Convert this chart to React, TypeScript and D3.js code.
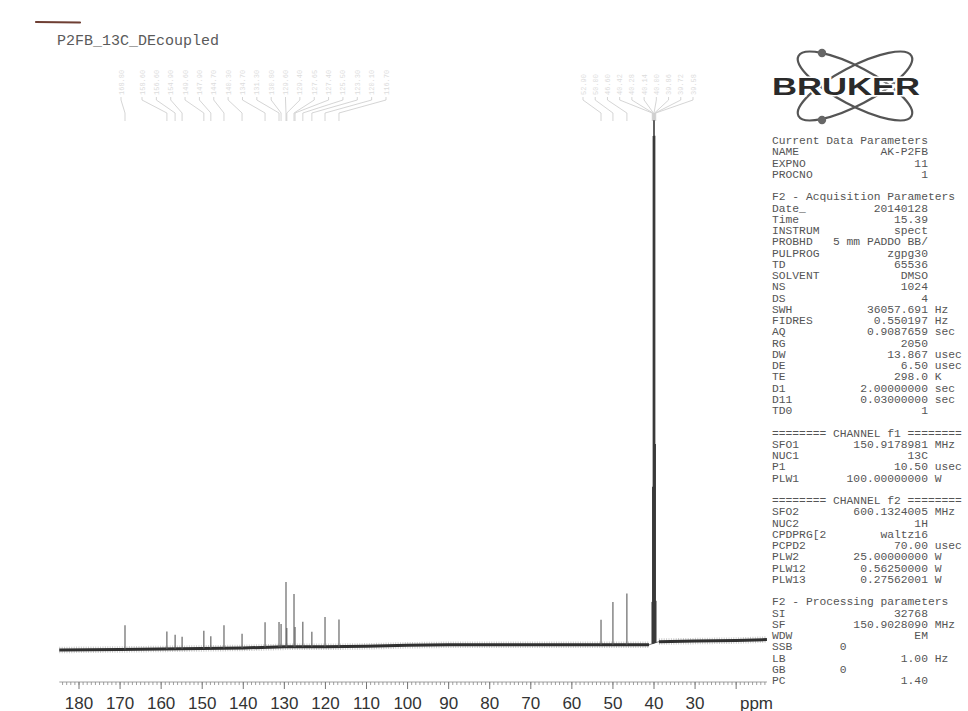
import React from "react";
import * as d3 from "d3";

const W = 968;
const H = 711;

// peaks: ppm and height (DMSO = 100)
const aromaticPpm = [168.8, 158.6, 156.6, 154.9, 149.6, 147.9, 144.7, 140.3, 134.7, 131.3, 130.8, 129.6, 129.4, 127.65, 127.4, 125.5, 123.3, 120.1, 116.7];
const aromaticHeight = [4.6, 3.3, 2.7, 2.3, 3.4, 2.3, 4.4, 2.7, 4.8, 4.8, 4.4, 12.4, 3.6, 10.1, 3.8, 4.8, 2.9, 5.7, 5.2];
const aliphaticPpm = [52.9, 50.0, 46.6];
const aliphaticHeight = [4.8, 8.2, 9.8];
const dmsoPpm = [40.42, 40.28, 40.14, 40.0, 39.86, 39.72, 39.58];
const dmsoHeight = [8, 30, 97, 100, 97, 38, 8];

// baseline drift
const baselinePpm = [184.8, 170, 160, 150, 140, 130, 120, 110, 100, 90, 70, 55, 41.2, 38.8, 30, 20, 12.5];
const baselineLevel = [0, 0.1, 0.2, 0.3, 0.4, 0.6, 0.6, 0.7, 0.9, 1.0, 1.0, 1.0, 1.0, 1.6, 1.7, 1.8, 2.0];

const tickLabels = [180, 170, 160, 150, 140, 130, 120, 110, 100, 90, 80, 70, 60, 50, 40, 30];

// parameter block: [label, value, unit]
const currentParams = [
  ["NAME", "AK-P2FB", ""],
  ["EXPNO", "11", ""],
  ["PROCNO", "1", ""],
];
const acqParams = [
  ["Date_", "20140128", ""],
  ["Time", "15.39", ""],
  ["INSTRUM", "spect", ""],
  ["PROBHD", "5 mm PADDO BB/", ""],
  ["PULPROG", "zgpg30", ""],
  ["TD", "65536", ""],
  ["SOLVENT", "DMSO", ""],
  ["NS", "1024", ""],
  ["DS", "4", ""],
  ["SWH", "36057.691", "Hz"],
  ["FIDRES", "0.550197", "Hz"],
  ["AQ", "0.9087659", "sec"],
  ["RG", "2050", ""],
  ["DW", "13.867", "usec"],
  ["DE", "6.50", "usec"],
  ["TE", "298.0", "K"],
  ["D1", "2.00000000", "sec"],
  ["D11", "0.03000000", "sec"],
  ["TD0", "1", ""],
];
const f1Params = [
  ["SFO1", "150.9178981", "MHz"],
  ["NUC1", "13C", ""],
  ["P1", "10.50", "usec"],
  ["PLW1", "100.00000000", "W"],
];
const f2Params = [
  ["SFO2", "600.1324005", "MHz"],
  ["NUC2", "1H", ""],
  ["CPDPRG[2", "waltz16", ""],
  ["PCPD2", "70.00", "usec"],
  ["PLW2", "25.00000000", "W"],
  ["PLW12", "0.56250000", "W"],
  ["PLW13", "0.27562001", "W"],
];
const procParams = [
  ["SI", "32768", ""],
  ["SF", "150.9028090", "MHz"],
  ["WDW", "EM", ""],
  ["SSB", "0            ", ""],
  ["LB", "1.00", "Hz"],
  ["GB", "0            ", ""],
  ["PC", "1.40", ""],
];

const fmt = (p: string[]) => {
  const [label, value, unit] = p;
  const pad = Math.max(1, 23 - label.length - value.length);
  return label + " ".repeat(pad) + value + (unit ? " " + unit : "");
};

const paramLines: string[] = [
  "Current Data Parameters",
  ...currentParams.map(fmt),
  "",
  "F2 - Acquisition Parameters",
  ...acqParams.map(fmt),
  "",
  "======== CHANNEL f1 ========",
  ...f1Params.map(fmt),
  "",
  "======== CHANNEL f2 ========",
  ...f2Params.map(fmt),
  "",
  "F2 - Processing parameters",
  ...procParams.map(fmt),
];

const App = () => {
  const x = d3.scaleLinear().domain([180, 40]).range([79, 654]);
  const y = d3.scaleLinear().domain([0, 100]).range([650, 127]);
  const base = d3.scaleLinear().domain(baselinePpm).range(baselineLevel);

  const line = d3
    .line<number>()
    .x((p) => x(p))
    .y((p) => y(base(p)));
  const segA = baselinePpm.filter((p) => p >= 41.2);
  const segB = baselinePpm.filter((p) => p <= 38.8);

  const peaks = [
    ...aromaticPpm.map((p, i) => ({ ppm: p, h: aromaticHeight[i] })),
    ...aliphaticPpm.map((p, i) => ({ ppm: p, h: aliphaticHeight[i] })),
  ];
  const dmso = dmsoPpm.map((p, i) => ({ ppm: p, h: dmsoHeight[i] }));

  // peak label groups along the top
  const groups = [
    { ppm: aromaticPpm.slice(0, 1), range: [121, 121] },
    { ppm: aromaticPpm.slice(1), range: [142, 386] },
    { ppm: [...aliphaticPpm, ...dmsoPpm], range: [583, 693] },
  ];

  const axisY = 682;
  const minor = d3.range(13, 185);
  const major = d3.range(20, 181, 10);

  return (
    <svg
      width={W}
      height={H}
      style={{ position: "absolute", left: 0, top: 0, background: "#fff", display: "block" }}
    >
      <rect width={W} height={H} fill="#fff" />

      {/* pen mark + title */}
      <line x1={36} y1={22} x2={80} y2={22.5} stroke="#6e3e33" strokeWidth={2.2} strokeLinecap="round" />
      <text x={57} y={45} fontFamily="'Liberation Mono', 'DejaVu Sans Mono', monospace" fontSize={15} fill="#5a5a5a">
        P2FB_13C_DEcoupled
      </text>

      {/* faint peak labels */}
      {groups.map((g, gi) => {
        const col = d3
          .scalePoint<number>()
          .domain(d3.range(g.ppm.length))
          .range(g.range as [number, number]);
        return (
          <g key={gi}>
            {g.ppm.map((p, i) => {
              const cx = col(i) as number;
              const px = x(p);
              return (
                <g key={i}>
                  <text
                    transform={`translate(${cx + 2.5},95) rotate(-90)`}
                    fontFamily="'Liberation Mono', monospace"
                    fontSize={7}
                    fill="#dcdcdc"
                  >
                    {p.toFixed(2)}
                  </text>
                  <path
                    d={`M${cx},97 L${cx},100 L${px},113 L${px},121`}
                    fill="none"
                    stroke="#cacaca"
                    strokeWidth={0.8}
                  />
                </g>
              );
            })}
          </g>
        );
      })}

      {/* noisy baseline */}
      {[segA, segB].map((s, i) => (
        <g key={i}>
          <path d={line(s) || ""} fill="none" stroke="#666" strokeWidth={6.5} strokeDasharray="1 1.4" opacity={0.35} />
          <path d={line(s) || ""} fill="none" stroke="#303030" strokeWidth={3} />
        </g>
      ))}
      <path d={line([41.2, 38.8]) || ""} fill="none" stroke="#555" strokeWidth={0.8} />

      {/* peaks */}
      {peaks.map((d, i) => (
        <line
          key={i}
          x1={x(d.ppm)}
          x2={x(d.ppm)}
          y1={y(base(d.ppm))}
          y2={y(base(d.ppm) + d.h)}
          stroke="#5a5a5a"
          strokeWidth={1.1}
        />
      ))}
      {dmso.map((d, i) => (
        <line
          key={"d" + i}
          x1={x(d.ppm)}
          x2={x(d.ppm)}
          y1={y(base(d.ppm))}
          y2={y(base(d.ppm) + d.h)}
          stroke="#3a3a3a"
          strokeWidth={1.6}
        />
      ))}

      {/* x axis */}
      <line x1={x(184.8)} x2={x(12.5)} y1={axisY} y2={axisY} stroke="#888" strokeWidth={0.8} />
      {minor.map((t) => (
        <line key={t} x1={x(t)} x2={x(t)} y1={axisY} y2={axisY + 3} stroke="#888" strokeWidth={0.8} />
      ))}
      {major.map((t) => (
        <line key={"M" + t} x1={x(t)} x2={x(t)} y1={axisY} y2={axisY + 7} stroke="#777" strokeWidth={1} />
      ))}
      {tickLabels.map((t) => (
        <text
          key={"l" + t}
          x={x(t)}
          y={708.5}
          textAnchor="middle"
          fontFamily="'Liberation Sans', Arial, sans-serif"
          fontSize={17}
          fill="#333"
        >
          {t}
        </text>
      ))}
      <text x={773} y={708.5} textAnchor="end" fontFamily="'Liberation Sans', Arial, sans-serif" fontSize={17} fill="#333">
        ppm
      </text>

      {/* Bruker logo */}
      <g fill="none" stroke="#555" strokeWidth={2.2}>
        <ellipse cx={855} cy={86} rx={64} ry={19} transform="rotate(28 855 86)" />
        <ellipse cx={855} cy={86} rx={64} ry={19} transform="rotate(-28 855 86)" />
      </g>
      <circle cx={822} cy={53} r={4.2} fill="#666" />
      <circle cx={822} cy={120} r={4.2} fill="#666" />
      <text
        x={772}
        y={95}
        textLength={148}
        lengthAdjust="spacingAndGlyphs"
        fontFamily="'Liberation Sans', Arial, sans-serif"
        fontWeight={900}
        fontSize={24}
        fill="#2a2a2a"
        stroke="#fff"
        strokeWidth={3}
        style={{ paintOrder: "stroke" }}
      >
        BRUKER
      </text>

      {/* parameters */}
      <g fontFamily="'Liberation Mono', 'DejaVu Sans Mono', monospace" fontSize={11.3} fill="#555">
        {paramLines.map((s, i) =>
          s ? (
            <text key={i} x={772} y={144 + i * 11.25} style={{ whiteSpace: "pre" }} xmlSpace="preserve">
              {s}
            </text>
          ) : null
        )}
      </g>
    </svg>
  );
};

export default App;
